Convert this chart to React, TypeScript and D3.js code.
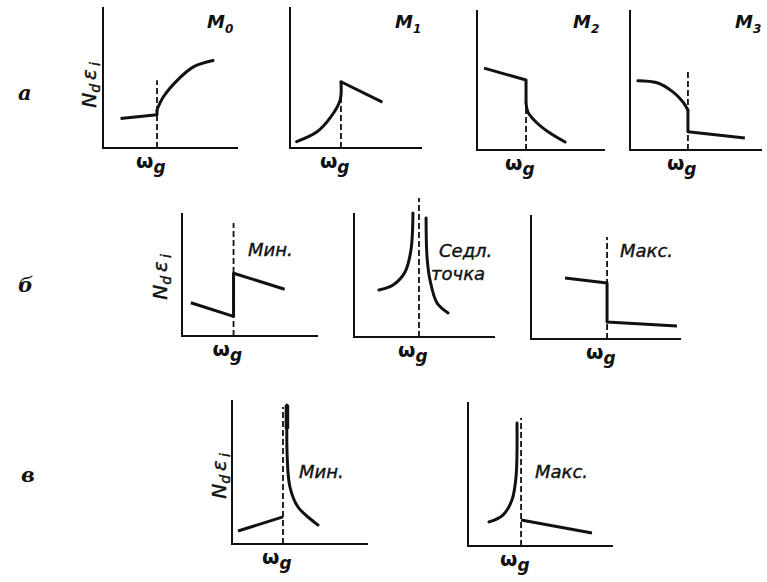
import React from "react";
import * as d3 from "d3";

type Pt = [number, number];

// ---- data (panel units: x 0..10 along the frequency axis, y 0..10 along N_d ε_i) ----
const panelNames = ["M0", "M1", "M2", "M3", "minB", "saddle", "maxB", "minV", "maxV"];
const omegaG = [4.0, 3.86, 3.83, 4.39, 3.79, 4.61, 5.07, 3.75, 3.66];
const dashTop = [4.8, 4.7, 3.0, 5.71, 9.19, 11.2, 8.23, 9.51, 8.89];

// row а
const m0Step: Pt[] = [[1.3, 2.1], [4.0, 2.35], [4.0, 2.7]];
const m0Rise: Pt[] = [[4.0, 2.7], [4.45, 3.6], [5.5, 4.8], [6.7, 5.75], [8.15, 6.2]];
const m1Rise: Pt[] = [[0.5, 0.45], [2.05, 1.15], [3.05, 2.15], [3.8, 3.4], [3.86, 4.7]];
const m1Fall: Pt[] = [[3.86, 4.7], [7.0, 3.25]];
const m2Step: Pt[] = [[0.55, 5.85], [3.83, 5.0], [3.83, 3.35]];
const m2Decay: Pt[] = [[3.83, 3.35], [3.98, 2.71], [4.69, 1.93], [5.7, 1.21], [6.88, 0.57]];
const m3Bend: Pt[] = [[0.6, 4.95], [2.05, 4.8], [3.25, 4.15], [4.0, 3.45], [4.39, 2.85]];
const m3Step: Pt[] = [[4.39, 2.85], [4.39, 1.3], [8.7, 0.85]];
// row б
const minBStep: Pt[] = [[0.65, 2.7], [3.79, 1.6], [3.79, 5.1], [7.55, 3.8]];
const saddleLeft: Pt[] = [[1.77, 3.79], [2.77, 4.19], [3.62, 5.24], [4.04, 7.02], [4.18, 10.0]];
const saddleRight: Pt[] = [[5.11, 9.6], [5.18, 6.45], [5.39, 4.6], [5.89, 2.74], [6.67, 1.94]];
const maxBStep: Pt[] = [[2.27, 4.92], [5.07, 4.52], [5.07, 1.37], [9.73, 1.05]];
// row в
const minVLine: Pt[] = [[0.44, 0.9], [3.75, 1.88]];
const minVBranch: Pt[] = [[4.04, 9.65], [4.06, 6.04], [4.26, 3.96], [4.85, 2.57], [6.32, 1.32]];
const minVSpike: Pt[] = [[4.04, 9.65], [4.04, 8.0]];
const maxVBranch: Pt[] = [[1.45, 1.67], [2.41, 2.15], [3.03, 3.19], [3.31, 4.79], [3.38, 8.54]];
const maxVLine: Pt[] = [[3.66, 1.81], [8.55, 0.9]];

const straightSegs: Pt[][][] = [
  [m0Step], [m1Fall], [m2Step], [m3Step], [minBStep], [], [maxBStep], [minVLine], [maxVLine],
];
const smoothSegs: Pt[][][] = [
  [m0Rise], [m1Rise], [m2Decay], [m3Bend], [], [saddleLeft, saddleRight], [], [minVBranch], [maxVBranch],
];
const heavySegs: Pt[][][] = [[], [], [], [], [], [], [], [minVSpike], []];

const cornerTitles = ["M", "M", "M", "M", "Мин.", "Седл.", "Макс.", "Мин.", "Макс."];
const cornerSubs = ["0", "1", "2", "3", "", "точка", "", "", ""];
const rowLabels = ["а", "б", "в"];

// ---- layout (pixels) ----
const frames = [
  { L: 103, T: 7, R: 238, B: 148 },
  { L: 290, T: 7, R: 422, B: 148 },
  { L: 477, T: 10, R: 605, B: 150 },
  { L: 630, T: 10, R: 762, B: 150 },
  { L: 182, T: 213, R: 318, B: 336 },
  { L: 354, T: 213, R: 495, B: 337 },
  { L: 531, T: 215, R: 681, B: 339 },
  { L: 232, T: 400, R: 368, B: 544 },
  { L: 468, T: 402, R: 613, B: 546 },
];
const titlePos = [
  [207, 28], [395, 28], [573, 28], [735, 28],
  [248, 256], [439, 257], [620, 257], [299, 478], [535, 478],
];
const rowLabelPos = [[18, 100], [18, 292], [21, 482]];
const yLabelPos = [[96, 85], [167, 277], [226, 476]];

const SANS = "'DejaVu Sans', sans-serif";
const INK = "#111";

export default function App() {
  const straight = d3.line<Pt>().curve(d3.curveLinear);
  const smooth = d3.line<Pt>().curve(d3.curveCatmullRom.alpha(0.5));

  return (
    <svg
      width={767}
      height={582}
      viewBox="0 0 767 582"
      style={{ position: "absolute", left: 0, top: 0, background: "#fff" }}
    >
      {panelNames.map((name, i) => {
        const f = frames[i];
        const x = d3.scaleLinear().domain([0, 10]).range([f.L, f.R]);
        const y = d3.scaleLinear().domain([0, 10]).range([f.B, f.T]);
        straight.x((d) => x(d[0])).y((d) => y(d[1]));
        smooth.x((d) => x(d[0])).y((d) => y(d[1]));
        const wx = x(omegaG[i]);
        return (
          <g key={name}>
            <line x1={x(0)} y1={y(0)} x2={x(0)} y2={y(10)} stroke={INK} strokeWidth={2} />
            <line x1={x(0) - 1} y1={y(0)} x2={x(10)} y2={y(0)} stroke={INK} strokeWidth={2} />
            <line
              x1={wx}
              y1={y(0)}
              x2={wx}
              y2={y(dashTop[i])}
              stroke={INK}
              strokeWidth={1.8}
              strokeDasharray="6,3"
            />
            {straightSegs[i].map((s, k) => (
              <path key={"s" + k} d={straight(s) || ""} fill="none" stroke={INK} strokeWidth={3} strokeLinejoin="round" />
            ))}
            {smoothSegs[i].map((s, k) => (
              <path key={"c" + k} d={smooth(s) || ""} fill="none" stroke={INK} strokeWidth={3} strokeLinecap="round" />
            ))}
            {heavySegs[i].map((s, k) => (
              <path key={"h" + k} d={straight(s) || ""} fill="none" stroke={INK} strokeWidth={4.5} />
            ))}
            <text x={wx - 21} y={y(0) + 20} fill={INK} fontFamily={SANS}>
              <tspan fontSize={20} fontWeight="bold">ω</tspan>
              <tspan fontSize={17} fontStyle="italic" fontWeight="bold" dy={5}>g</tspan>
            </text>
            {i < 4 ? (
              <text x={titlePos[i][0]} y={titlePos[i][1]} fill={INK} fontFamily={SANS} fontStyle="italic" fontWeight="bold">
                <tspan fontSize={18}>{cornerTitles[i]}</tspan>
                <tspan fontSize={12} dy={5}>{cornerSubs[i]}</tspan>
              </text>
            ) : (
              <text
                x={titlePos[i][0]}
                y={titlePos[i][1]}
                fill={INK}
                stroke={INK}
                strokeWidth={0.4}
                fontFamily={SANS}
                fontStyle="italic"
                fontSize={18}
              >
                {cornerTitles[i]}
                {cornerSubs[i] ? (
                  <tspan x={titlePos[i][0] - 8} dy={23}>{cornerSubs[i]}</tspan>
                ) : null}
              </text>
            )}
          </g>
        );
      })}
      {rowLabels.map((r, i) => (
        <text
          key={r}
          x={rowLabelPos[i][0]}
          y={rowLabelPos[i][1]}
          fontFamily="'DejaVu Serif', serif"
          fontStyle="italic"
          fontWeight="bold"
          fontSize={21}
          fill={INK}
        >
          {r}
        </text>
      ))}
      {yLabelPos.map((p, i) => (
        <text
          key={"yl" + i}
          transform={`translate(${p[0]},${p[1]}) rotate(-90)`}
          textAnchor="middle"
          fontFamily={SANS}
          fontStyle="italic"
          fontSize={20}
          fill={INK}
          stroke={INK}
          strokeWidth={0.4}
        >
          <tspan>N</tspan>
          <tspan fontSize={14} dy={4}>d</tspan>
          <tspan dy={-4} dx={4}>ε</tspan>
          <tspan fontSize={14} dy={4} dx={3}>i</tspan>
        </text>
      ))}
    </svg>
  );
}
